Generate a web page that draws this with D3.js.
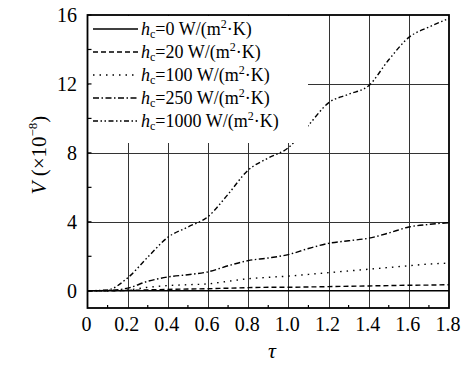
<!DOCTYPE html>
<html>
<head>
<meta charset="utf-8">
<script src="https://cdn.jsdelivr.net/npm/d3@7"></script>
<style>
  body { margin: 0; background: #fff; }
</style>
</head>
<body>
<div id="chart"></div>
<script>
// values
const tau = [0, 0.1, 0.2, 0.3, 0.4, 0.5, 0.6, 0.7, 0.8, 0.9, 1.0, 1.1, 1.2, 1.3, 1.4, 1.5, 1.6, 1.7, 1.8];
const h0 = [0, 0, 0, 0, 0, 0, 0, 0, 0, 0, 0, 0, 0, 0, 0, 0, 0, 0, 0];
const h20 = [0, 0, 0.02, 0.05, 0.08, 0.1, 0.12, 0.15, 0.18, 0.2, 0.2, 0.22, 0.24, 0.26, 0.28, 0.3, 0.32, 0.33, 0.35];
const h100 = [0, 0, 0.05, 0.2, 0.3, 0.35, 0.4, 0.55, 0.7, 0.78, 0.85, 0.95, 1.05, 1.15, 1.25, 1.35, 1.45, 1.55, 1.6];
const h250 = [0, 0.02, 0.15, 0.55, 0.8, 0.93, 1.1, 1.45, 1.75, 1.9, 2.1, 2.45, 2.75, 2.9, 3.05, 3.35, 3.7, 3.85, 3.95];
const h1000 = [0, 0.05, 0.75, 1.95, 3.1, 3.7, 4.3, 5.6, 7.0, 7.7, 8.3, 9.6, 10.9, 11.4, 11.9, 13.4, 14.7, 15.3, 15.8];

const hcLabels = ["0", "20", "100", "250", "1000"];
const xTicks = [0, 0.2, 0.4, 0.6, 0.8, 1.0, 1.2, 1.4, 1.6, 1.8];
const yTicks = [0, 4, 8, 12, 16];

const series = [h0, h20, h100, h250, h1000];
const dashes = [null, "5,3", "1.5,5", "6,2.5,1.5,2.5", "5,2.5,1.5,2.5,1.5,2.5"];

const W = 463, H = 369;
const pLeft = 87.5, pRight = 449, pTop = 15, pBottom = 308;

const x = d3.scaleLinear().domain([0, 1.8]).range([pLeft, pRight]);
const y = d3.scaleLinear().domain([-1, 16]).range([pBottom, pTop]);

const svg = d3.select("#chart").append("svg")
  .attr("width", W)
  .attr("height", H)
  .attr("font-family", "Liberation Serif");

// grid
const grid = svg.append("g").attr("class", "grid")
  .attr("stroke", "#333").attr("stroke-width", 1);

grid.selectAll(".hgrid")
  .data([4, 8, 12])
  .enter().append("line")
  .attr("x1", pLeft).attr("x2", pRight)
  .attr("y1", d => Math.round(y(d)) + 0.5)
  .attr("y2", d => Math.round(y(d)) + 0.5);

grid.selectAll(".vgrid")
  .data(xTicks.slice(1, -1))
  .enter().append("line")
  .attr("x1", d => Math.round(x(d)) + 0.5)
  .attr("x2", d => Math.round(x(d)) + 0.5)
  .attr("y1", pTop).attr("y2", pBottom);

// curves
const line = d3.line()
  .x((d, i) => x(tau[i]))
  .y(d => y(d))
  .curve(d3.curveMonotoneX);

svg.append("g").attr("class", "curves")
  .selectAll("path")
  .data(series)
  .enter().append("path")
  .attr("fill", "none")
  .attr("stroke", "#000")
  .attr("stroke-width", (d, i) => i == 0 ? 1.3 : 1.4)
  .attr("stroke-dasharray", (d, i) => dashes[i])
  .attr("d", line);

// legend (white box over the grid)
const legendG = svg.append("g").attr("class", "legend");
legendG.append("rect")
  .attr("x", pLeft + 1).attr("y", pTop + 1)
  .attr("width", 308 - pLeft - 1).attr("height", 143 - pTop - 1)
  .attr("fill", "#fff");

const rows = legendG.selectAll(".row")
  .data(hcLabels)
  .enter().append("g")
  .attr("class", "row")
  .attr("transform", (d, i) => `translate(0,${29 + i * 23})`);

rows.append("line")
  .attr("x1", 93).attr("x2", 138)
  .attr("y1", 0).attr("y2", 0)
  .attr("stroke", "#000")
  .attr("stroke-width", (d, i) => i == 0 ? 1.6 : 1.3)
  .attr("stroke-dasharray", (d, i) => dashes[i]);

const lt = rows.append("text")
  .attr("x", 141).attr("y", 6)
  .attr("font-size", "18px");
lt.append("tspan").attr("font-style", "italic").text("h");
lt.append("tspan").attr("font-size", "12px").attr("dy", 3).text("c");
lt.append("tspan").attr("dy", -3).text(d => "=" + d + " W/(m");
lt.append("tspan").attr("font-size", "12px").attr("dy", -7).text("2");
lt.append("tspan").attr("dy", 7).text("·K)");

// ticks
const ticks = svg.append("g").attr("stroke", "#000").attr("stroke-width", 1.2);
ticks.selectAll(".yt")
  .data(d3.range(0, 17, 2))
  .enter().append("line")
  .attr("x1", pLeft).attr("x2", pLeft + 4)
  .attr("y1", d => y(d)).attr("y2", d => y(d));
ticks.selectAll(".xt")
  .data(d3.range(0.1, 1.8, 0.2))
  .enter().append("line")
  .attr("x1", d => x(d)).attr("x2", d => x(d))
  .attr("y1", pBottom).attr("y2", pBottom - 3);

// frame
svg.append("rect")
  .attr("x", pLeft).attr("y", pTop)
  .attr("width", pRight - pLeft).attr("height", pBottom - pTop)
  .attr("fill", "none").attr("stroke", "#000").attr("stroke-width", 1.8);

// tick labels
svg.append("g").selectAll("text")
  .data(yTicks)
  .enter().append("text")
  .attr("x", 77).attr("y", d => y(d))
  .attr("dy", "0.36em")
  .attr("text-anchor", "end")
  .attr("font-size", "20px")
  .text(d => d);

svg.append("g").selectAll("text")
  .data(xTicks)
  .enter().append("text")
  .attr("x", d => x(d) - 1).attr("y", 331)
  .attr("text-anchor", "middle")
  .attr("font-size", "20px")
  .text(d => d == 0 ? "0" : d3.format(".1f")(d));

// axis titles
svg.append("text")
  .attr("x", 272).attr("y", 358)
  .attr("text-anchor", "middle")
  .attr("font-size", "22px")
  .attr("font-style", "italic")
  .text("τ");

const yl = svg.append("text")
  .attr("transform", "translate(46,155) rotate(-90)")
  .attr("text-anchor", "middle")
  .attr("font-size", "21px");
yl.append("tspan").attr("font-style", "italic").text("V");
yl.append("tspan").text(" (×10");
yl.append("tspan").attr("font-size", "13px").attr("dy", -9).text("−8");
yl.append("tspan").attr("dy", 9).text(")");
</script>
</body>
</html>
